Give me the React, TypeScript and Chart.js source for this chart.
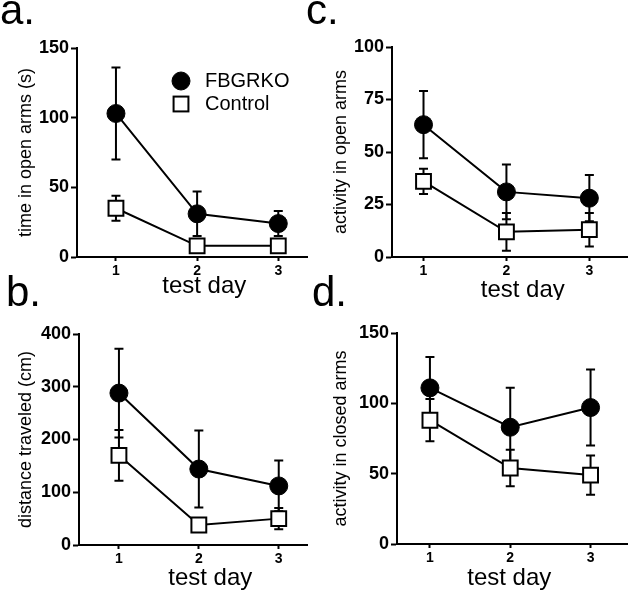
import React, { useEffect, useRef } from "react";
import { Chart, registerables } from "chart.js";

Chart.register(...registerables);

const FONT = '"Liberation Sans", Arial, Helvetica, sans-serif';
Chart.defaults.font.family = FONT;
Chart.defaults.color = "#000";

// shared
const days = [1, 2, 3];
const seriesNames = ["FBGRKO", "Control"];
const xTitle = "test day";

// a. time in open arms (s)
const timeOpenKO = [103, 31, 24];
const timeOpenKOErr = [33, 16, 9];
const timeOpenCtl = [35, 8, 8];
const timeOpenCtlErr = [9, 3, 3];
const timeOpenTicks = [0, 50, 100, 150];

// b. distance traveled (cm)
const distKO = [288, 144, 112];
const distKOErr = [84, 73, 48];
const distCtl = [170, 38, 50];
const distCtlErr = [48, 10, 20];
const distTicks = [0, 100, 200, 300, 400];

// c. activity in open arms
const actOpenKO = [63, 31, 28];
const actOpenKOErr = [16, 13, 11];
const actOpenCtl = [36, 12, 13];
const actOpenCtlErr = [6, 9, 8];
const actOpenTicks = [0, 25, 50, 75, 100];

// d. activity in closed arms
const actClosedKO = [111, 83, 97];
const actClosedKOErr = [22, 28, 27];
const actClosedCtl = [88, 54, 49];
const actClosedCtlErr = [15, 13, 14];
const actClosedTicks = [0, 50, 100, 150];

const errorBarPlugin = {
  id: "errorBars",
  beforeDatasetsDraw(chart: any) {
    const ctx = chart.ctx;
    const ys = chart.scales.y;
    chart.data.datasets.forEach((ds: any, i: number) => {
      const meta = chart.getDatasetMeta(i);
      meta.data.forEach((pt: any, j: number) => {
        const v = ds.data[j].y;
        const e = ds.errors[j];
        const x = pt.x;
        const yTop = ys.getPixelForValue(v + e);
        const yBot = ys.getPixelForValue(v - e);
        ctx.save();
        ctx.strokeStyle = "#000";
        ctx.lineWidth = 2;
        ctx.beginPath();
        ctx.moveTo(x, yTop);
        ctx.lineTo(x, yBot);
        ctx.moveTo(x - 4.5, yTop);
        ctx.lineTo(x + 4.5, yTop);
        ctx.moveTo(x - 4.5, yBot);
        ctx.lineTo(x + 4.5, yBot);
        ctx.stroke();
        ctx.restore();
      });
    });
  },
};

const insideLegendPlugin = {
  id: "insideLegend",
  afterDatasetsDraw(chart: any, _args: any, opts: any) {
    if (!opts || !opts.show) return;
    const { ctx, chartArea } = chart;
    chart.data.datasets.forEach((ds: any, i: number) => {
      const x = chartArea.left + opts.dx;
      const y = chartArea.top + opts.dy + i * opts.rowH;
      ctx.save();
      ctx.lineWidth = ds.pointBorderWidth;
      ctx.strokeStyle = "#000";
      ctx.fillStyle = ds.pointBackgroundColor;
      if (ds.pointStyle === "circle") {
        ctx.beginPath();
        ctx.arc(x, y, ds.pointRadius, 0, Math.PI * 2);
        ctx.fill();
        ctx.stroke();
      } else {
        const s = ds.pointRadius * Math.SQRT1_2;
        ctx.fillRect(x - s, y - s, 2 * s, 2 * s);
        ctx.strokeRect(x - s, y - s, 2 * s, 2 * s);
      }
      ctx.fillStyle = "#000";
      ctx.font = `20px ${FONT}`;
      ctx.textBaseline = "middle";
      ctx.textAlign = "left";
      ctx.fillText(ds.label, x + 24, y);
      ctx.restore();
    });
  },
};

// x-axis title drawn under the x scale, centred on the axis with a small shift
const xTitlePlugin = {
  id: "xAxisTitle",
  afterDraw(chart: any, _args: any, opts: any) {
    if (!opts || !opts.text) return;
    const { ctx } = chart;
    const s = chart.scales.x;
    ctx.save();
    ctx.fillStyle = "#000";
    ctx.font = `${opts.size}px ${FONT}`;
    ctx.textAlign = "center";
    ctx.textBaseline = "alphabetic";
    ctx.fillText(opts.text, (s.left + s.right) / 2 + opts.dx, chart.height - opts.bottom);
    ctx.restore();
  },
};

type PanelSpec = {
  ko: number[];
  koErr: number[];
  ctl: number[];
  ctlErr: number[];
  yTicks: number[];
  yTitle: string;
  yW: number;
  top: number;
  right: number;
  xH: number;
  xMin: number;
  xMax: number;
  yTitlePad: number;
  xTitleDx: number;
  xTitleBottom: number;
  legend: boolean;
};

function makeConfig(p: PanelSpec): any {
  const tickGrid = (len: number) => ({
    display: true,
    drawOnChartArea: false,
    drawTicks: true,
    tickLength: len,
    tickColor: "#000",
    tickWidth: 2,
    color: "#000",
  });
  return {
    type: "line",
    data: {
      datasets: [
        {
          label: seriesNames[0],
          data: days.map((d, i) => ({ x: d, y: p.ko[i] })),
          errors: p.koErr,
          borderColor: "#000",
          backgroundColor: "#000",
          borderWidth: 2,
          pointStyle: "circle",
          pointRadius: 9,
          pointBorderWidth: 1,
          pointBackgroundColor: "#000",
          pointBorderColor: "#000",
        },
        {
          label: seriesNames[1],
          data: days.map((d, i) => ({ x: d, y: p.ctl[i] })),
          errors: p.ctlErr,
          borderColor: "#000",
          backgroundColor: "#fff",
          borderWidth: 2,
          pointStyle: "rect",
          pointRadius: 10.5,
          pointBorderWidth: 2,
          pointBackgroundColor: "#fff",
          pointBorderColor: "#000",
        },
      ],
    },
    options: {
      responsive: false,
      animation: false,
      events: [],
      layout: { padding: { left: 0, top: p.top, right: p.right, bottom: 0 } },
      plugins: {
        legend: { display: false },
        tooltip: { enabled: false },
        insideLegend: { show: p.legend, dx: 104, dy: 33, rowH: 23 },
        xAxisTitle: { text: xTitle, size: 24, dx: p.xTitleDx, bottom: p.xTitleBottom },
      },
      scales: {
        x: {
          type: "linear",
          min: p.xMin,
          max: p.xMax,
          afterBuildTicks: (s: any) => {
            s.ticks = days.map((v) => ({ value: v }));
          },
          afterFit: (s: any) => {
            s.height = p.xH;
          },
          grid: tickGrid(4),
          border: { display: true, color: "#000", width: 2 },
          ticks: { font: { size: 14, weight: "bold" }, padding: 2, color: "#000", maxRotation: 0 },
          title: { display: false },
        },
        y: {
          type: "linear",
          min: p.yTicks[0],
          max: p.yTicks[p.yTicks.length - 1],
          afterBuildTicks: (s: any) => {
            s.ticks = p.yTicks.map((v) => ({ value: v }));
          },
          afterFit: (s: any) => {
            s.width = p.yW;
          },
          grid: tickGrid(6),
          border: { display: true, color: "#000", width: 2 },
          ticks: { font: { size: 18, weight: "bold" }, padding: 2, color: "#000" },
          title: {
            display: true,
            text: p.yTitle,
            font: { size: 18 },
            color: "#000",
            padding: { top: p.yTitlePad, bottom: 0 },
          },
        },
      },
    },
    plugins: [errorBarPlugin, insideLegendPlugin, xTitlePlugin],
  };
}

function Panel({ left, top, width, height, spec }: { left: number; top: number; width: number; height: number; spec: PanelSpec }) {
  const ref = useRef<HTMLCanvasElement>(null);
  useEffect(() => {
    if (!ref.current) return;
    const chart = new Chart(ref.current, makeConfig(spec));
    return () => chart.destroy();
  }, []);
  return (
    <canvas
      ref={ref}
      width={width}
      height={height}
      style={{ position: "absolute", left, top, width, height, display: "block" }}
    />
  );
}

const letterStyle = (left: number, top: number): React.CSSProperties => ({
  position: "absolute",
  left,
  top,
  fontFamily: FONT,
  fontSize: 42,
  lineHeight: "42px",
  color: "#000",
  zIndex: 2,
  whiteSpace: "nowrap",
});

export default function App() {
  const specA: PanelSpec = {
    ko: timeOpenKO, koErr: timeOpenKOErr, ctl: timeOpenCtl, ctlErr: timeOpenCtlErr,
    yTicks: timeOpenTicks, yTitle: "time in open arms (s)",
    yW: 77, top: 48, right: 0, xH: 43, xMin: 0.52, xMax: 3.36, yTitlePad: 15,
    xTitleDx: 12, xTitleBottom: 7, legend: true,
  };
  const specB: PanelSpec = {
    ko: distKO, koErr: distKOErr, ctl: distCtl, ctlErr: distCtlErr,
    yTicks: distTicks, yTitle: "distance traveled (cm)",
    yW: 79, top: 34, right: 0, xH: 45, xMin: 0.5, xMax: 3.36, yTitlePad: 15,
    xTitleDx: 17, xTitleBottom: 5, legend: false,
  };
  const specC: PanelSpec = {
    ko: actOpenKO, koErr: actOpenKOErr, ctl: actOpenCtl, ctlErr: actOpenCtlErr,
    yTicks: actOpenTicks, yTitle: "activity in open arms",
    yW: 72, top: 47, right: 7, xH: 43, xMin: 0.62, xMax: 3.46, yTitlePad: 10,
    xTitleDx: 13, xTitleBottom: 3, legend: false,
  };
  const specD: PanelSpec = {
    ko: actClosedKO, koErr: actClosedKOErr, ctl: actClosedCtl, ctlErr: actClosedCtlErr,
    yTicks: actClosedTicks, yTitle: "activity in closed arms",
    yW: 77, top: 33, right: 0, xH: 46, xMin: 0.59, xMax: 3.46, yTitlePad: 10,
    xTitleDx: -3, xTitleBottom: 5, legend: false,
  };
  return (
    <div style={{ position: "absolute", left: 0, top: 0, width: 640, height: 590, background: "#fff", overflow: "hidden" }}>
      <Panel left={0} top={0} width={320} height={300} spec={specA} />
      <Panel left={0} top={300} width={320} height={290} spec={specB} />
      <Panel left={320} top={0} width={320} height={300} spec={specC} />
      <Panel left={320} top={300} width={320} height={290} spec={specD} />
      <div style={letterStyle(0, -11)}>a.</div>
      <div style={letterStyle(6, 271)}>b.</div>
      <div style={letterStyle(306, -11)}>c.</div>
      <div style={letterStyle(312, 271)}>d.</div>
    </div>
  );
}
